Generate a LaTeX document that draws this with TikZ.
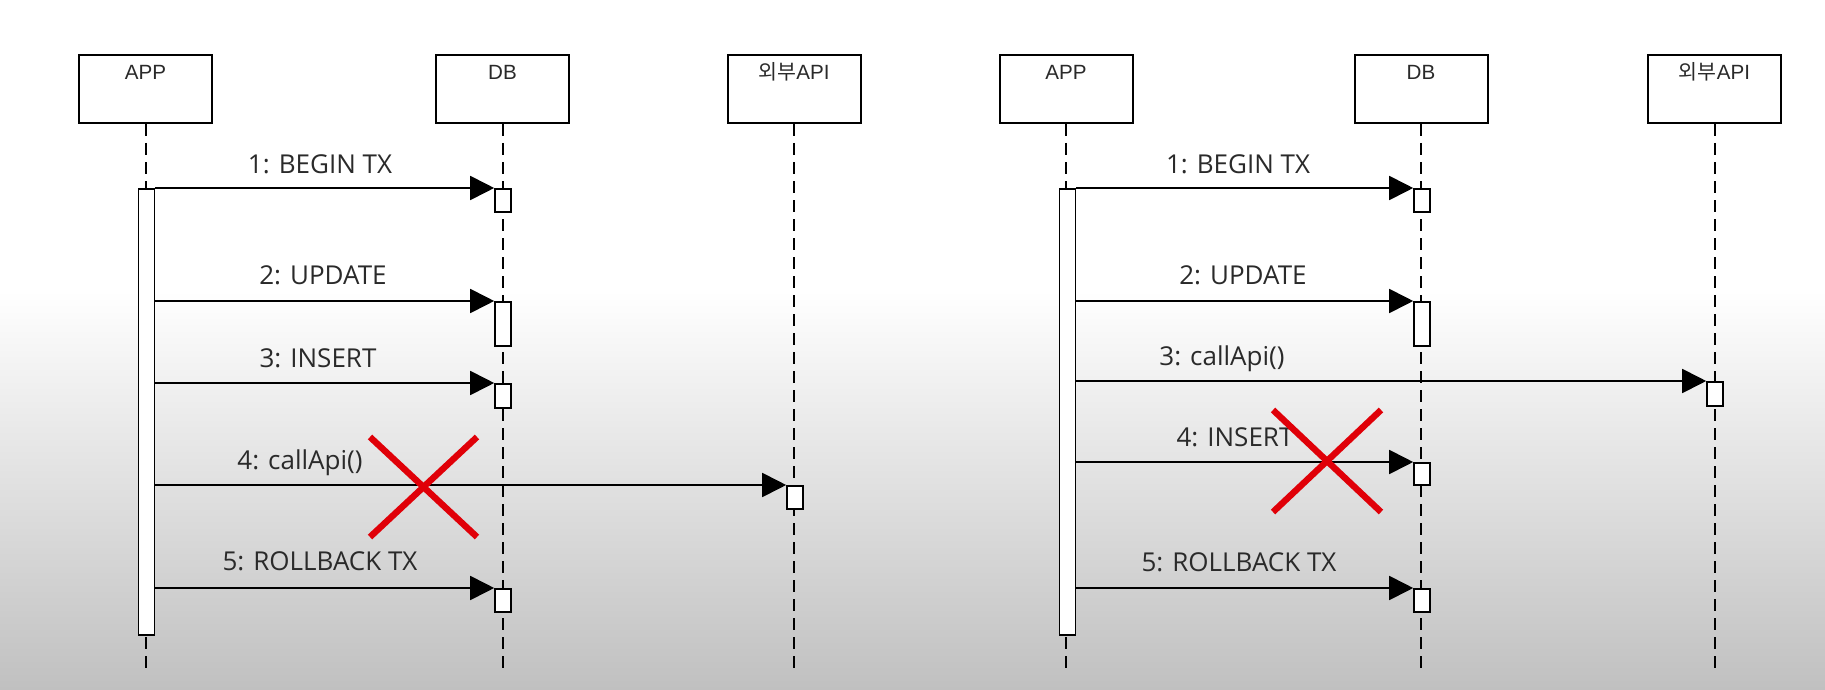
\documentclass[tikz,border=0pt]{standalone}
\usepackage{fontspec}
\setmainfont{Open Sans}
\newfontfamily\boxfont{Liberation Sans}
\newfontfamily\krfont{Noto Sans CJK KR}
\usetikzlibrary{arrows.meta}
\definecolor{txt}{HTML}{2A2A2A}
\definecolor{bggray}{HTML}{C0C0C0}
\definecolor{xred}{HTML}{E00008}
\begin{document}
\begin{tikzpicture}[x=0.5pt,y=-0.5pt,
 actor/.style={draw=black, line width=1pt, fill=white, minimum width=66.5pt, minimum height=34pt, inner sep=0pt},
 actorlabel/.style={font=\boxfont\fontsize{10.3pt}{12pt}\selectfont, text=txt, anchor=base, inner sep=0pt},
 lifeline/.style={line width=1pt, dash pattern=on 6pt off 3.5pt},
 actbar/.style={draw=black, line width=0.8pt, fill=white, minimum width=8pt, inner sep=0pt, anchor=north},
 msg/.style={line width=0.9pt, -{Triangle[length=12pt,width=12pt]}},
 msglabel/.style={font=\fontsize{13pt}{15pt}\selectfont, text=txt, anchor=base, inner sep=0pt},
 redx/.style={draw=xred, line width=3.2pt}
]
% background
\fill[white] (0,0) rectangle (1825,690);
\shade[top color=white, bottom color=bggray] (0,290) rectangle (1825,690);
\useasboundingbox (0,0) rectangle (1825,690);

% ================= LEFT DIAGRAM =================
\node[actor] (appL) at (145.5,89) {};
\node[actorlabel] (appLt) at (145.5,80) {APP};
\node[actor] (dbL) at (502.5,89) {};
\node[actorlabel] (dbLt) at (502.5,80) {DB};
\node[actor] (apiL) at (794,89) {};
\node[actorlabel] (apiLt) at (794,80) {{\krfont 외부}API};

\coordinate (appLe) at (145.5,673);
\coordinate (dbLe) at (502.5,673);
\coordinate (apiLe) at (794,673);
\draw[lifeline] (appL.south) -- (appLe);
\draw[lifeline] (dbL.south) -- (dbLe);
\draw[lifeline] (apiL.south) -- (apiLe);

\node[actbar, minimum height=223pt] (barL) at (146.5,188) {};
\node[actbar, minimum height=11.5pt] (dbL1) at (503,188) {};
\node[actbar, minimum height=22pt] (dbL2) at (503,301) {};
\node[actbar, minimum height=12pt] (dbL3) at (503,383) {};
\node[actbar, minimum height=11.5pt] (apiL4) at (795,485) {};
\node[actbar, minimum height=11.5pt] (dbL5) at (503,588) {};

\draw[msg] (barL.north east) -- (dbL1.north west);
\draw[msg] (barL.east |- dbL2.north west) -- (dbL2.north west);
\draw[msg] (barL.east |- dbL3.north west) -- (dbL3.north west);
\draw[msg] (barL.east |- apiL4.north west) -- (apiL4.north west);
\draw[msg] (barL.east |- dbL5.north west) -- (dbL5.north west);

\node[msglabel] (mL1) at (320,173) {1: BEGIN TX};
\node[msglabel] (mL2) at (323,284) {2: UPDATE};
\node[msglabel] (mL3) at (318,367) {3: INSERT};
\node[msglabel] (mL4) at (300,469) {4: callApi()};
\node[msglabel] (mL5) at (320,570) {5: ROLLBACK TX};

\coordinate (xL1) at (370,437);
\coordinate (xL2) at (477,537);
\coordinate (xL3) at (477,437);
\coordinate (xL4) at (370,537);
\draw[redx] (xL1) -- (xL2);
\draw[redx] (xL3) -- (xL4);

% ================= RIGHT DIAGRAM =================
\node[actor] (appR) at (1066,89) {};
\node[actorlabel] (appRt) at (1066,80) {APP};
\node[actor] (dbR) at (1421,89) {};
\node[actorlabel] (dbRt) at (1421,80) {DB};
\node[actor] (apiR) at (1714.5,89) {};
\node[actorlabel] (apiRt) at (1714.5,80) {{\krfont 외부}API};

\coordinate (appRe) at (1066,673);
\coordinate (dbRe) at (1421,673);
\coordinate (apiRe) at (1714.5,673);
\draw[lifeline] (appR.south) -- (appRe);
\draw[lifeline] (dbR.south) -- (dbRe);
\draw[lifeline] (apiR.south) -- (apiRe);

\node[actbar, minimum height=223pt] (barR) at (1067.5,188) {};
\node[actbar, minimum height=11.5pt] (dbR1) at (1422,188) {};
\node[actbar, minimum height=22pt] (dbR2) at (1422,301) {};
\node[actbar, minimum height=12pt] (apiR3) at (1715,381) {};
\node[actbar, minimum height=11pt] (dbR4) at (1422,462) {};
\node[actbar, minimum height=11.5pt] (dbR5) at (1422,588) {};

\draw[msg] (barR.north east) -- (dbR1.north west);
\draw[msg] (barR.east |- dbR2.north west) -- (dbR2.north west);
\draw[msg] (barR.east |- apiR3.north west) -- (apiR3.north west);
\draw[msg] (barR.east |- dbR4.north west) -- (dbR4.north west);
\draw[msg] (barR.east |- dbR5.north west) -- (dbR5.north west);

\node[msglabel] (mR1) at (1238,173) {1: BEGIN TX};
\node[msglabel] (mR2) at (1243,284) {2: UPDATE};
\node[msglabel] (mR3) at (1222,365) {3: callApi()};
\node[msglabel] (mR4) at (1235,446) {4: INSERT};
\node[msglabel] (mR5) at (1239,571) {5: ROLLBACK TX};

\coordinate (xR1) at (1273,410);
\coordinate (xR2) at (1381,512);
\coordinate (xR3) at (1381,410);
\coordinate (xR4) at (1273,512);
\draw[redx] (xR1) -- (xR2);
\draw[redx] (xR3) -- (xR4);
\end{tikzpicture}
\end{document}
